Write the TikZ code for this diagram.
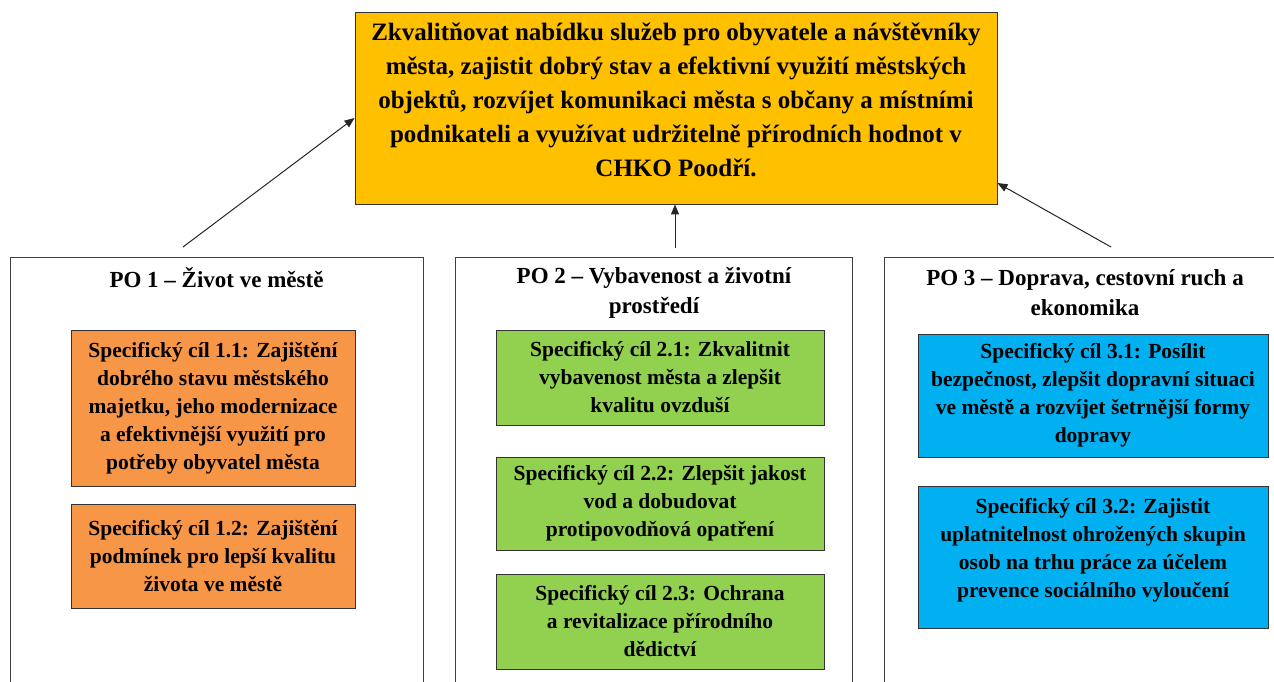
\documentclass[tikz,border=0pt]{standalone}
\usepackage{fontspec}
\setmainfont{Liberation Serif}
\usetikzlibrary{arrows.meta}
\definecolor{goalgold}{HTML}{FFC000}
\definecolor{po1orange}{HTML}{F79646}
\definecolor{po2green}{HTML}{92D050}
\definecolor{po3blue}{HTML}{00B0F0}
\begin{document}
\begin{tikzpicture}[x=1pt,y=-1pt,
  panel/.style={draw=black!75,line width=0.9pt,minimum width=#1,minimum height=460pt,anchor=north,inner sep=0pt},
  cilbox/.style={draw=black!80,line width=0.9pt,fill=#1,align=center,inner sep=0pt,
    font=\bfseries\fontsize{21.5}{28}\selectfont},
  potitle/.style={align=center,font=\bfseries\fontsize{23}{30}\selectfont},
  arr/.style={line width=1pt,draw=black!85,-{Triangle[length=10pt,width=8pt]}}]
\useasboundingbox (0,0) rectangle (1274,682);
\clip (0,0) rectangle (1274,682);

% hlavni cil
\node[cilbox=goalgold,minimum width=642pt,minimum height=192pt] (cil) at (676,108) {};
\node[align=center,font=\bfseries\fontsize{25}{34}\selectfont] (ciltext) at ([yshift=8pt]cil.center)
  {Zkvalitňovat nabídku služeb pro obyvatele a návštěvníky\\
   města, zajistit dobrý stav a efektivní využití městských\\
   objektů, rozvíjet komunikaci města s občany a místními\\
   podnikateli a využívat udržitelně přírodních hodnot v\\
   CHKO Poodří.};

% prioritni osy
\node[panel=413pt] (po1) at (216.5,257) {};
\node[panel=397pt] (po2) at (654,257) {};
\node[panel=403pt] (po3) at (1085.5,257) {};

\node[potitle] (po1title) at (216.5,278) {PO 1 – Život ve městě};
\node[potitle] (po2title) at (654,293) {PO 2 – Vybavenost a životní\\prostředí};
\node[potitle] (po3title) at (1085,293) {PO 3 – Doprava, cestovní ruch a\\ekonomika};

% specificke cile
\node[cilbox=po1orange,minimum width=284pt,minimum height=156pt] (c11) at (213,408)
  {Specifický cíl 1.1: Zajištění\\dobrého stavu městského\\majetku, jeho modernizace\\a efektivnější využití pro\\potřeby obyvatel města};
\node[cilbox=po1orange,minimum width=284pt,minimum height=104pt] (c12) at (213,556)
  {Specifický cíl 1.2: Zajištění\\podmínek pro lepší kvalitu\\života ve městě};

\node[cilbox=po2green,minimum width=328pt,minimum height=95pt] (c21) at (660,377.5)
  {Specifický cíl 2.1: Zkvalitnit\\vybavenost města a zlepšit\\kvalitu ovzduší};
\node[cilbox=po2green,minimum width=328pt,minimum height=93pt] (c22) at (660,503.5)
  {Specifický cíl 2.2: Zlepšit jakost\\vod a dobudovat\\protipovodňová opatření};
\node[cilbox=po2green,minimum width=328pt,minimum height=95pt] (c23) at (660,621.5)
  {Specifický cíl 2.3: Ochrana\\a revitalizace přírodního\\dědictví};

\node[cilbox=po3blue,minimum width=350pt,minimum height=123pt] (c31) at (1093,395.5)
  {Specifický cíl 3.1: Posílit\\bezpečnost, zlepšit dopravní situaci\\ve městě a rozvíjet šetrnější formy\\dopravy};
\node[cilbox=po3blue,minimum width=350pt,minimum height=142pt] (c32) at (1093,557)
  {Specifický cíl 3.2: Zajistit\\uplatnitelnost ohrožených skupin\\osob na trhu práce za účelem\\prevence sociálního vyloučení\\[-10pt]\mbox{}};

% sipky
\coordinate (a1) at (183,247);
\coordinate (a2) at (675,248);
\coordinate (a3) at (1111,247);
\draw[arr] (a1) -- ([yshift=-10pt]cil.west);
\draw[arr] (a2) -- (a2 |- cil.south);
\draw[arr] (a3) -- ([yshift=-75pt]cil.east);
\end{tikzpicture}
\end{document}
